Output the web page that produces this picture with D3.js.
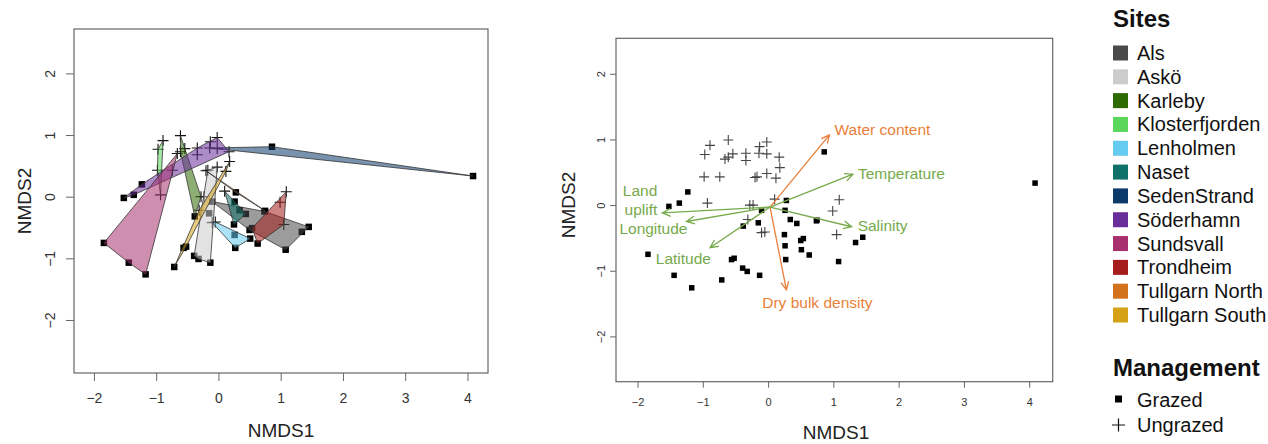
<!DOCTYPE html>
<html>
<head>
<meta charset="utf-8">
<script src="https://cdn.jsdelivr.net/npm/d3@7"></script>
<style>
  body { margin: 0; background: #fff; font-family: "Liberation Sans", Arial, sans-serif; }
  .tick line { stroke: #666; }
</style>
</head>
<body>
<script>
// sites and their colours
const sites = ["Als", "Askö", "Karleby", "Klosterfjorden", "Lenholmen", "Naset",
               "SedenStrand", "Söderhamn", "Sundsvall", "Trondheim", "Tullgarn North", "Tullgarn South"];
const siteColors = ["#4a4a4a", "#cccccc", "#2d6a00", "#5ad75a", "#66cbee", "#10706a",
                    "#0b3a6b", "#6a2e9a", "#a8306f", "#a51d1d", "#d3721b", "#d4a117"];

// NMDS scores of the plots (first the ungrazed, then the grazed ones)
const nmds1 = [-0.89, -0.61, -0.97, -0.66, -0.61, -0.54, -0.34, -0.34, -0.13, -0.02,
               -0.14, -0.02, 0.17, 0.18, -0.98, -0.74, -0.20, -0.17, -0.02, 0.12,
               -0.93, -0.28, -0.23, -0.31, -0.10, -0.05, 0.10, 1.09, 0.99, 1.05,
               -1.23, -1.52, -1.36, -0.10, -0.15, -0.38, -1.84, -0.56, -0.52, -0.39,
               -0.32, -0.13, -1.44, -0.71, -1.17, 0.86, 0.28, 0.26, 0.34, 0.44,
               0.75, 0.74, 0.25, 0.26, 0.54, 0.50, 0.51, 0.63, 0.27, 1.08,
               1.34, 1.45, 4.09];
const nmds2 = [0.91, 0.99, 0.77, 0.70, 0.73, 0.78, 0.79, 0.68, 0.89, 0.96,
               0.79, 0.78, 0.73, 0.57, 0.43, 0.43, 0.42, 0.43, 0.48, 0.41,
               0.03, 0.00, 0.00, -0.22, -0.42, -0.41, 0.09, 0.08, -0.09, -0.45,
               0.20, -0.02, 0.03, -0.08, -0.27, -0.32, -0.75, -0.83, -0.81, -0.96,
               -1.01, -1.07, -1.07, -1.14, -1.26, 0.81, 0.07, -0.08, -0.22, -0.28,
               -0.23, -0.24, -0.45, -0.62, -0.51, -0.54, -0.68, -0.76, -0.83, -0.86,
               -0.57, -0.49, 0.335];
const pointSite = ["Klosterfjorden", "Karleby", "Klosterfjorden", "Sundsvall", "Karleby", "Karleby", "Söderhamn", "Söderhamn", "Söderhamn", "Söderhamn",
                   "SedenStrand", "SedenStrand", "Söderhamn", "Tullgarn South", "Klosterfjorden", "Sundsvall", "Tullgarn North", "Askö", "Askö", "Tullgarn South",
                   "Klosterfjorden", "Karleby", "Askö", "Tullgarn South", "Lenholmen", "Lenholmen", "Naset", "Trondheim", "Trondheim", "Trondheim",
                   "Söderhamn", "Söderhamn", "Söderhamn", "Als", "Askö", "Karleby", "Sundsvall", "Tullgarn South", "Tullgarn South", "Askö",
                   "Askö", "Askö", "Sundsvall", "Tullgarn South", "Sundsvall", "SedenStrand", "Tullgarn North", "Naset", "Naset", "Naset",
                   "Tullgarn North", "Als", "Naset", "Lenholmen", "Trondheim", "Als", "Lenholmen", "Trondheim", "Lenholmen", "Als",
                   "Als", "Als", "SedenStrand"];
const management = ["U","U","U","U","U","U","U","U","U","U",
                    "U","U","U","U","U","U","U","U","U","U",
                    "U","U","U","U","U","U","U","U","U","U",
                    "G","G","G","G","G","G","G","G","G","G",
                    "G","G","G","G","G","G","G","G","G","G",
                    "G","G","G","G","G","G","G","G","G","G",
                    "G","G","G"];

// environmental vectors (envfit)
const envNames = ["Water content", "Temperature", "Salinity", "Dry bulk density", "Land uplift", "Longitude", "Latitude"];
const envX = [0.94, 1.30, 1.28, 0.28, -1.62, -1.25, -0.89];
const envY = [1.07, 0.47, -0.33, -1.29, -0.12, -0.25, -0.65];
const envGroup = ["soil", "climate", "climate", "soil", "climate", "climate", "climate"];
const envOrigin = [0.03, -0.03];

// axis ticks
const xTicks = [-2, -1, 0, 1, 2, 3, 4];
const yTicks = [-2, -1, 0, 1, 2];

const mgmtLabels = ["Grazed", "Ungrazed"];

const points = nmds1.map((d, i) => ({ x: d, y: nmds2[i], site: pointSite[i], mgmt: management[i] }));
const groupColor = { soil: "#ea7f3a", climate: "#76aa4c" };
const siteColor = d3.scaleOrdinal().domain(sites).range(siteColors);

const svg = d3.select("body")
              .append("svg")
              .attr("width", 1268)
              .attr("height", 444);

// draws box, ticks and axis titles, returns the scales
function panel(opt) {
    const x = d3.scaleLinear().domain(opt.xDomain).range([opt.left, opt.right]);
    const y = d3.scaleLinear().domain(opt.yDomain).range([opt.bottom, opt.top]);
    const g = svg.append("g");

    const xa = g.append("g")
                .attr("transform", `translate(0,${opt.bottom})`)
                .call(d3.axisBottom(x).tickValues(xTicks).tickFormat(d3.format("d"))
                        .tickSize(opt.tick).tickPadding(opt.xPad));
    xa.select(".domain").remove();
    xa.selectAll("text").style("font-size", opt.tickFont + "px").attr("fill", "#333")
      .style("font-family", "Liberation Sans, Arial, sans-serif");

    const ya = g.append("g")
                .attr("transform", `translate(${opt.left},0)`)
                .call(d3.axisLeft(y).tickValues(yTicks).tickFormat(d3.format("d")).tickSize(opt.tick));
    ya.select(".domain").remove();
    ya.selectAll("text")
      .attr("x", 0).attr("dy", null)
      .attr("text-anchor", "middle")
      .attr("transform", `translate(${-opt.yOff},0) rotate(-90)`)
      .style("font-size", opt.tickFont + "px").attr("fill", "#333")
      .style("font-family", "Liberation Sans, Arial, sans-serif");

    g.append("rect")
     .attr("x", opt.left).attr("y", opt.top)
     .attr("width", opt.right - opt.left).attr("height", opt.bottom - opt.top)
     .attr("fill", "none").attr("stroke", "#666").attr("stroke-width", 1.2);

    g.append("text")
     .attr("x", opt.x1x).attr("y", opt.x1y)
     .attr("text-anchor", "middle")
     .style("font-size", opt.titleFont + "px").attr("fill", "#222")
     .text("NMDS1");
    g.append("text")
     .attr("transform", `translate(${opt.y2x},${opt.y2y}) rotate(-90)`)
     .attr("text-anchor", "middle")
     .style("font-size", opt.titleFont + "px").attr("fill", "#222")
     .text("NMDS2");
    return { x, y, g };
}

function drawPoints(g, x, y, sq, plus, col) {
    g.selectAll(null)
     .data(points.filter(d => d.mgmt === "G"))
     .enter().append("rect")
     .attr("x", d => x(d.x) - sq / 2).attr("y", d => y(d.y) - sq / 2)
     .attr("width", sq).attr("height", sq)
     .attr("fill", "#000");
    g.selectAll(null)
     .data(points.filter(d => d.mgmt === "U"))
     .enter().append("path")
     .attr("d", d => `M${x(d.x) - plus / 2},${y(d.y)}h${plus}M${x(d.x)},${y(d.y) - plus / 2}v${plus}`)
     .attr("stroke", col).attr("stroke-width", 1.1).attr("fill", "none");
}

// ---- left panel: hulls per site
const L = panel({ xDomain: [-2.32, 4.33], yDomain: [-2.86, 2.72], left: 74, right: 488, top: 29, bottom: 373,
                  tick: 8, xPad: 12, yOff: 19, tickFont: 14, titleFont: 19,
                  x1x: 281, x1y: 437, y2x: 31, y2y: 201 });

drawPoints(L.g, L.x, L.y, 6.5, 11, "#111");

sites.forEach(s => {
    const pts = points.filter(d => d.site === s).map(d => [L.x(d.x), L.y(d.y)]);
    const hull = pts.length > 2 ? d3.polygonHull(pts) : pts;
    L.g.append("path")
       .attr("d", "M" + hull.join("L") + "Z")
       .attr("fill", siteColor(s))
       .attr("fill-opacity", 0.55)
       .attr("stroke", "#333")
       .attr("stroke-width", 0.8);
});

// ---- right panel: points and environmental vectors
const R = panel({ xDomain: [-2.33, 4.36], yDomain: [-2.69, 2.54], left: 616, right: 1052.7, top: 38.3, bottom: 381.7,
                  tick: 6, xPad: 11, yOff: 11, tickFont: 11, titleFont: 19,
                  x1x: 836, x1y: 439, y2x: 575, y2y: 205 });

drawPoints(R.g, R.x, R.y, 5.5, 10, "#444");

const ox = R.x(envOrigin[0]), oy = R.y(envOrigin[1]);
const labelPos = {
    "Water content": [5, 0, "start"], "Temperature": [5, 5, "start"], "Salinity": [6, 4, "start"],
    "Dry bulk density": [31, 18, "middle"], "Land uplift": [-5, -17, "end"],
    "Longitude": [1, 13, "end"], "Latitude": [1, 16, "end"]
};
envNames.forEach((name, i) => {
    const tx = R.x(envX[i]), ty = R.y(envY[i]);
    const col = groupColor[envGroup[i]];
    const a = Math.atan2(ty - oy, tx - ox), h = 9, w = 0.45;
    R.g.append("path")
       .attr("d", `M${ox},${oy}L${tx},${ty}` +
                  `M${tx - h * Math.cos(a - w)},${ty - h * Math.sin(a - w)}L${tx},${ty}` +
                  `L${tx - h * Math.cos(a + w)},${ty - h * Math.sin(a + w)}`)
       .attr("stroke", col).attr("stroke-width", 1.3).attr("fill", "none");
    const p = labelPos[name];
    const t = R.g.append("text")
                 .attr("x", tx + p[0]).attr("y", ty + p[1])
                 .attr("text-anchor", p[2])
                 .attr("fill", col)
                 .style("font-size", "15.5px");
    if (name === "Land uplift") {
        t.append("tspan").attr("x", tx + p[0]).text("Land");
        t.append("tspan").attr("x", tx + p[0]).attr("dy", 19).text("uplift");
    } else {
        t.text(name);
    }
});

// ---- legend
const leg = svg.append("g");
leg.append("text").attr("x", 1113).attr("y", 27)
   .style("font-size", "24px").style("font-weight", "bold").attr("fill", "#111").text("Sites");
const row = d3.scalePoint().domain(sites).range([53, 315]);
leg.selectAll(null).data(sites).enter().append("rect")
   .attr("x", 1113).attr("y", d => row(d) - 7.5)
   .attr("width", 15).attr("height", 15)
   .attr("fill", d => siteColor(d));
leg.selectAll(null).data(sites).enter().append("text")
   .attr("x", 1137).attr("y", d => row(d) + 7)
   .style("font-size", "20px").attr("fill", "#111")
   .text(d => d);

leg.append("text").attr("x", 1113).attr("y", 376)
   .style("font-size", "24px").style("font-weight", "bold").attr("fill", "#111").text("Management");
const mrow = d3.scalePoint().domain(mgmtLabels).range([400, 425]);
leg.append("rect").attr("x", 1115).attr("y", mrow("Grazed") - 4.5).attr("width", 7).attr("height", 7).attr("fill", "#000");
leg.append("path")
   .attr("d", `M1112,${mrow("Ungrazed")}h13M1118.5,${mrow("Ungrazed") - 6.5}v13`)
   .attr("stroke", "#111").attr("stroke-width", 1.2);
leg.selectAll(null).data(mgmtLabels).enter().append("text")
   .attr("x", 1137).attr("y", d => mrow(d) + 7)
   .style("font-size", "20px").attr("fill", "#111")
   .text(d => d);
</script>
</body>
</html>
